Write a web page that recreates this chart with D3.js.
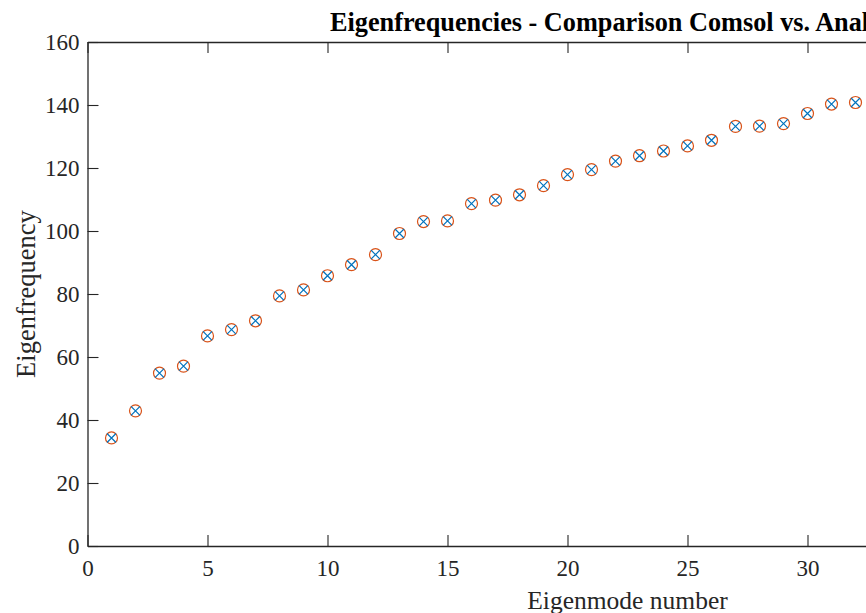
<!DOCTYPE html>
<html lang="en">

<head>
  <meta charset="UTF-8">
  <title>Eigenfrequencies - Comparison Comsol vs. Analytical</title>
  <style>
    * {
      margin: 0;
      padding: 0;
      box-sizing: border-box;
    }

    body {
      background-color: white;
      overflow: hidden;
    }

    #chart {
      display: block;
      font-family: "Liberation Serif", "Times New Roman", serif;
    }
  </style>
  <script src="https://cdnjs.cloudflare.com/ajax/libs/d3/7.8.5/d3.min.js"></script>
</head>

<body>
  <svg id="chart"></svg>

  <script>
    // Eigenmode numbers and eigenfrequencies
    const modes = d3.range(1, 33);
    const comsolFreq = [
      34.3, 42.9, 54.9, 57.1, 66.7, 68.7, 71.5, 79.4, 81.3, 85.8,
      89.3, 92.5, 99.2, 103.0, 103.2, 108.7, 109.8, 111.5, 114.4, 117.9,
      119.5, 122.2, 123.9, 125.4, 127.0, 128.8, 133.2, 133.3, 134.1, 137.3,
      140.3, 140.8
    ];
    const analyticFreq = [
      34.3, 42.9, 54.9, 57.1, 66.7, 68.7, 71.5, 79.4, 81.3, 85.8,
      89.3, 92.5, 99.2, 103.0, 103.2, 108.7, 109.8, 111.5, 114.4, 117.9,
      119.5, 122.2, 123.9, 125.4, 127.0, 128.8, 133.2, 133.3, 134.1, 137.3,
      140.3, 140.8
    ];
    const xTicks = [0, 5, 10, 15, 20, 25, 30, 35, 40, 45];
    const yTicks = [0, 20, 40, 60, 80, 100, 120, 140, 160];

    const width = 866;
    const height = 613;
    const axColor = "#262626";

    // the axes run past the right edge of the picture
    const plot = { left: 87.5, top: 42, width: 1080, height: 504 };

    const svg = d3.select("#chart")
      .attr("width", width)
      .attr("height", height);

    const x = d3.scaleLinear()
      .domain([0, 45])
      .range([plot.left, plot.left + plot.width]);

    const y = d3.scaleLinear()
      .domain([0, 160])
      .range([plot.top + plot.height, plot.top]);

    function styleAxis(g, showLabels) {
      g.select(".domain").attr("stroke", axColor).attr("stroke-width", 1.3);
      g.selectAll(".tick line").attr("stroke", axColor).attr("stroke-width", 1.1);
      g.selectAll(".tick text")
        .attr("fill", axColor)
        .style("font-size", "23px")
        .style("font-family", "'Liberation Serif', 'Times New Roman', serif")
        .style("display", showLabels ? null : "none");
    }

    // bottom / top
    svg.append("g")
      .attr("transform", `translate(0,${y(0)})`)
      .call(d3.axisBottom(x).tickValues(xTicks).tickSize(-11).tickSizeOuter(0).tickPadding(14))
      .call(g => styleAxis(g, true));

    svg.append("g")
      .attr("transform", `translate(0,${y(160)})`)
      .call(d3.axisTop(x).tickValues(xTicks).tickSize(-11).tickSizeOuter(0))
      .call(g => styleAxis(g, false));

    // left / right
    svg.append("g")
      .attr("transform", `translate(${x(0)},0)`)
      .call(d3.axisLeft(y).tickValues(yTicks).tickSize(-11).tickSizeOuter(0).tickPadding(8))
      .call(g => styleAxis(g, true));

    svg.append("g")
      .attr("transform", `translate(${x(45)},0)`)
      .call(d3.axisRight(y).tickValues(yTicks).tickSize(-11).tickSizeOuter(0))
      .call(g => styleAxis(g, false));

    // Comsol: orange circles
    svg.append("g")
      .selectAll("circle")
      .data(modes)
      .enter()
      .append("circle")
      .attr("cx", d => x(d))
      .attr("cy", (d, i) => y(comsolFreq[i]))
      .attr("r", 6)
      .attr("fill", "none")
      .attr("stroke", "#D95319")
      .attr("stroke-width", 1.2);

    // Analytical: blue crosses
    const s = 4.5;
    svg.append("g")
      .selectAll("path")
      .data(modes)
      .enter()
      .append("path")
      .attr("d", (d, i) => {
        const cx = x(d), cy = y(analyticFreq[i]);
        return `M${cx - s},${cy - s}L${cx + s},${cy + s}M${cx - s},${cy + s}L${cx + s},${cy - s}`;
      })
      .attr("fill", "none")
      .attr("stroke", "#0072BD")
      .attr("stroke-width", 1.2);

    // title and axis labels
    const cx = plot.left + plot.width / 2;

    svg.append("text")
      .attr("x", 330)
      .attr("y", 31)
      .attr("text-anchor", "start")
      .attr("fill", "black")
      .style("font-size", "26.25px")
      .style("font-weight", "bold")
      .text("Eigenfrequencies - Comparison Comsol vs. Analytical");

    svg.append("text")
      .attr("x", cx)
      .attr("y", 609)
      .attr("text-anchor", "middle")
      .attr("fill", axColor)
      .style("font-size", "25.5px")
      .text("Eigenmode number");

    svg.append("text")
      .attr("transform", `translate(35,${plot.top + plot.height / 2}) rotate(-90)`)
      .attr("text-anchor", "middle")
      .attr("fill", axColor)
      .style("font-size", "26.5px")
      .text("Eigenfrequency");
  </script>
</body>

</html>
